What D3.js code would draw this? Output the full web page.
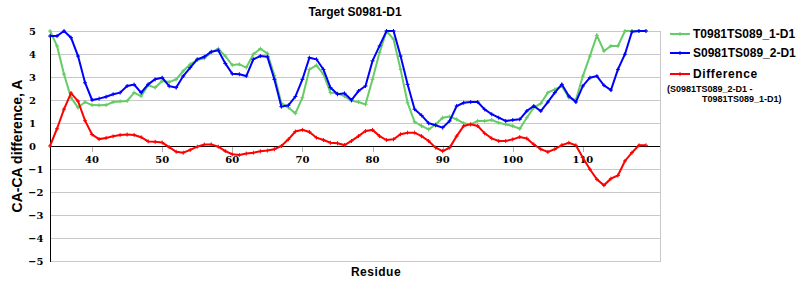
<!DOCTYPE html>
<html>
<head>
<meta charset="utf-8">
<script src="https://cdn.jsdelivr.net/npm/d3@7"></script>
<style>
  body { margin: 0; background: #fff; }
  svg { display: block; }
  .lbl { font-family: "Liberation Sans", Arial, sans-serif; font-weight: bold; fill: #000; }
  .tick-lbl { font-family: "DejaVu Serif", serif; font-weight: bold; font-size: 10px; fill: #000; }
</style>
</head>
<body>
<div id="chart"></div>
<script>
var residues = [34, 35, 36, 37, 38, 39, 40, 41, 42, 43, 44, 45, 46, 47, 48, 49, 50, 51, 52, 53,
  54, 55, 56, 57, 58, 59, 60, 61, 62, 63, 64, 65, 66, 67, 68, 69, 70, 71, 72, 73,
  74, 75, 76, 77, 78, 79, 80, 81, 82, 83, 84, 85, 86, 87, 88, 89, 90, 91, 92, 93,
  94, 95, 96, 97, 98, 99, 100, 101, 102, 103, 104, 105, 106, 107, 108, 109, 110, 111, 112, 113,
  114, 115, 116, 117, 118, 119];

var model1 = [5.0, 4.35, 3.12, 2.1, 1.67, 1.91, 1.78, 1.77, 1.78, 1.91, 1.94, 1.96, 2.32, 2.17, 2.64, 2.54, 2.83, 2.78, 2.9, 3.26,
  3.55, 3.74, 3.81, 4.06, 4.23, 3.91, 3.52, 3.55, 3.41, 3.99, 4.23, 4.03, 3.07, 1.86, 1.67, 1.42, 2.1, 3.33, 3.51, 3.12,
  2.32, 2.29, 2.17, 1.96, 1.91, 1.81, 2.9, 4.06, 5.0, 4.64, 3.33, 1.88, 1.05, 0.87, 0.72, 0.94, 1.23, 1.28, 1.16, 0.99,
  0.94, 1.09, 1.09, 1.13, 1.01, 0.94, 0.87, 0.75, 1.23, 1.67, 1.85, 2.32, 2.46, 2.61, 2.1, 2.0, 3.04, 3.91, 4.81, 4.13,
  4.35, 4.35, 5.0, 5.0, 5.0, 5.0];

var model2 = [4.78, 4.78, 5.0, 4.71, 3.91, 2.75, 2.0, 2.06, 2.14, 2.25, 2.32, 2.61, 2.67, 2.32, 2.68, 2.9, 2.97, 2.6, 2.54, 3.04,
  3.41, 3.77, 3.88, 4.1, 4.16, 3.59, 3.14, 3.12, 3.04, 3.77, 3.91, 3.88, 2.9, 1.71, 1.77, 2.15, 2.9, 3.84, 3.77, 3.33,
  2.54, 2.25, 2.29, 2.0, 2.39, 2.61, 3.7, 4.35, 5.0, 5.0, 3.91, 2.68, 1.6, 1.33, 0.99, 0.9, 0.8, 1.09, 1.74, 1.88,
  1.91, 1.91, 1.59, 1.38, 1.23, 1.09, 1.13, 1.16, 1.52, 1.74, 1.52, 1.91, 2.32, 2.68, 2.17, 1.91, 2.61, 2.97, 3.04, 2.64,
  2.43, 3.33, 3.99, 4.97, 5.0, 5.0];

var difference = [0, 0.75, 1.6, 2.3, 1.95, 1.1, 0.5, 0.3, 0.35, 0.42, 0.48, 0.5, 0.48, 0.38, 0.2, 0.18, 0.15, -0.05, -0.25, -0.29,
  -0.17, -0.03, 0.06, 0.07, -0.03, -0.22, -0.36, -0.39, -0.33, -0.29, -0.23, -0.2, -0.14, 0, 0.29, 0.63, 0.7, 0.61, 0.36, 0.26,
  0.14, 0.12, 0.04, 0.22, 0.43, 0.65, 0.7, 0.43, 0.26, 0.29, 0.51, 0.58, 0.58, 0.43, 0.22, -0.07, -0.22, -0.07, 0.43, 0.87,
  0.94, 0.87, 0.55, 0.33, 0.22, 0.22, 0.29, 0.39, 0.33, 0.07, -0.14, -0.26, -0.14, 0.04, 0.14, 0.03, -0.51, -1.01, -1.45, -1.71,
  -1.42, -1.28, -0.65, -0.29, 0.03, 0.03];

var xTicks = [40, 50, 60, 70, 80, 90, 100, 110];
var yTicks = [5, 4, 3, 2, 1, 0, -1, -2, -3, -4, -5];

var series = [
  {name: "T0981TS089_1-D1", color: "#66cc66", values: model1},
  {name: "S0981TS089_2-D1", color: "#0000ff", values: model2},
  {name: "Difference", color: "#ff0000", values: difference}
];

var makeChart = function(element) {
  var W = 800, H = 300;
  var left = 50, right = 660, top = 31, bottom = 261;

  var x = d3.scaleLinear().domain([34, 121]).range([left, right]);
  var y = d3.scaleLinear().domain([-5, 5]).range([bottom, top]);

  var svg = d3.select(element).append("svg")
    .attr("width", W)
    .attr("height", H);

  // grid
  svg.append("g")
    .selectAll("line")
    .data(yTicks)
    .enter().append("line")
    .attr("x1", left).attr("x2", right)
    .attr("y1", function(d) { return y(d) + 0.5; })
    .attr("y2", function(d) { return y(d) + 0.5; })
    .attr("stroke", "#c8c8c8")
    .attr("stroke-width", 1);

  // right border
  svg.append("line")
    .attr("x1", right + 0.5).attr("x2", right + 0.5)
    .attr("y1", top).attr("y2", bottom + 1)
    .attr("stroke", "#c8c8c8");

  // x ticks on zero line
  svg.append("g")
    .selectAll("line")
    .data(xTicks)
    .enter().append("line")
    .attr("x1", function(d) { return Math.round(x(d)) + 0.5; })
    .attr("x2", function(d) { return Math.round(x(d)) + 0.5; })
    .attr("y1", y(0)).attr("y2", y(0) + 6)
    .attr("stroke", "#b0b0b0");

  svg.append("g")
    .selectAll("text")
    .data(xTicks)
    .enter().append("text")
    .attr("class", "tick-lbl")
    .attr("x", function(d) { return x(d); })
    .attr("y", y(0) + 17)
    .attr("text-anchor", "middle")
    .text(function(d) { return d; });

  // y labels (left aligned like original)
  svg.append("g")
    .selectAll("text")
    .data(yTicks)
    .enter().append("text")
    .attr("class", "tick-lbl")
    .attr("x", function(d) { return d < 0 ? 28 : 29; })
    .attr("y", function(d) { return y(d) + 4; })
    .text(function(d) { return d < 0 ? "\u2212" + Math.abs(d) : d; });

  // zero line and y axis
  svg.append("line")
    .attr("x1", left).attr("x2", right)
    .attr("y1", Math.round(y(0)) + 0.5).attr("y2", Math.round(y(0)) + 0.5)
    .attr("stroke", "#000");
  svg.append("line")
    .attr("x1", left + 0.5).attr("x2", left + 0.5)
    .attr("y1", top).attr("y2", bottom + 1)
    .attr("stroke", "#000");

  var line = d3.line()
    .x(function(d, i) { return x(residues[i]); })
    .y(function(d) { return y(Math.max(-5, Math.min(5, d))); });

  var marker = function(px, py) {
    return "M" + (px - 2) + "," + py + "h4M" + px + "," + (py - 2) + "v4";
  };

  var g = svg.append("g")
    .selectAll("g")
    .data(series)
    .enter().append("g");

  g.append("path")
    .attr("d", function(s) { return line(s.values); })
    .attr("fill", "none")
    .attr("stroke", function(s) { return s.color; })
    .attr("stroke-width", 2);

  g.append("path")
    .attr("d", function(s) {
      return s.values.map(function(v, i) {
        return marker(x(residues[i]), y(Math.max(-5, Math.min(5, v))));
      }).join("");
    })
    .attr("fill", "none")
    .attr("stroke", function(s) { return s.color; })
    .attr("stroke-width", 1);

  // legend
  var legY = [34, 53, 74];
  var leg = svg.append("g")
    .selectAll("g")
    .data(series)
    .enter().append("g")
    .attr("transform", function(s, i) { return "translate(0," + legY[i] + ")"; });

  leg.append("line")
    .attr("x1", 670).attr("x2", 690)
    .attr("y1", 0).attr("y2", 0)
    .attr("stroke", function(s) { return s.color; })
    .attr("stroke-width", 2);
  leg.append("path")
    .attr("d", marker(680, 0))
    .attr("stroke", function(s) { return s.color; });
  leg.append("text")
    .attr("class", "lbl")
    .attr("x", 693)
    .attr("y", 4)
    .style("font-size", "12px")
    .style("letter-spacing", function(s, i) { return i == 2 ? "0.6px" : "0px"; })
    .text(function(s) { return s.name; });

  svg.append("text")
    .attr("class", "lbl")
    .attr("x", 667).attr("y", 92)
    .style("font-size", "9px")
    .text("(S0981TS089_2-D1 -");
  svg.append("text")
    .attr("class", "lbl")
    .attr("x", 702).attr("y", 102)
    .style("font-size", "9px")
    .text("T0981TS089_1-D1)");

  // titles
  svg.append("text")
    .attr("class", "lbl")
    .attr("x", 355).attr("y", 16)
    .attr("text-anchor", "middle")
    .style("font-size", "12px")
    .text("Target S0981-D1");

  svg.append("text")
    .attr("class", "lbl")
    .attr("x", 376).attr("y", 276)
    .attr("text-anchor", "middle")
    .style("font-size", "12px")
    .style("letter-spacing", "0.5px")
    .text("Residue");

  svg.append("text")
    .attr("class", "lbl")
    .attr("transform", "translate(22,146) rotate(-90)")
    .attr("text-anchor", "middle")
    .style("font-size", "14px")
    .text("CA-CA difference, A");
};

makeChart(document.getElementById("chart"));
</script>
</body>
</html>
